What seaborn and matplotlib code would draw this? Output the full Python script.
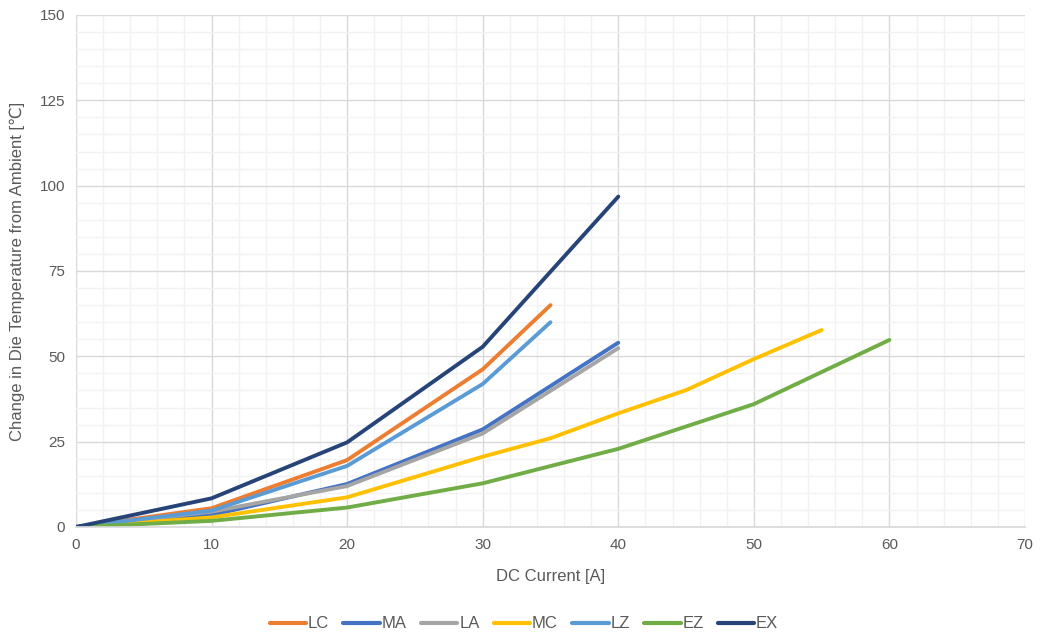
import numpy as np
import pandas as pd
import matplotlib.pyplot as plt
import seaborn as sns
from matplotlib.ticker import MultipleLocator

sns.set_theme(style='white')
plt.rcParams['font.family'] = ['Liberation Sans', 'DejaVu Sans']

# DC current points [A] and temperature rise [C] per part
x_short = [0, 10, 20, 30, 35]
x_40 = [0, 10, 20, 30, 40]
x_mc = [0, 10, 20, 30, 35, 40, 45, 50, 55]
x_ez = [0, 10, 20, 30, 40, 50, 60]

lc = [0, 5.5, 19.6, 46.2, 65]
ma = [0, 3.5, 12.6, 28.6, 54]
la = [0, 4.5, 12.0, 27.4, 52.4]
mc = [0, 2.8, 8.7, 20.6, 26, 33.3, 40.1, 49.2, 57.7]
lz = [0, 4.8, 17.9, 41.9, 60]
ez = [0, 1.8, 5.7, 12.8, 22.9, 36, 54.8]
ex = [0, 8.4, 24.8, 52.8, 96.8]

series = ['LC', 'MA', 'LA', 'MC', 'LZ', 'EZ', 'EX']
colors = ['#ED7D31', '#4472C4', '#A5A5A5', '#FFC000', '#5B9BD5', '#70AD47', '#264478']

rows = []
for name, xs, ys in [('LC', x_short, lc), ('MA', x_40, ma), ('LA', x_40, la),
                     ('MC', x_mc, mc), ('LZ', x_short, lz), ('EZ', x_ez, ez),
                     ('EX', x_40, ex)]:
    for a, b in zip(xs, ys):
        rows.append({'current': a, 'temp': b, 'part': name})
df = pd.DataFrame(rows)

fig = plt.figure(figsize=(10.41, 6.39), dpi=100)
ax = fig.add_axes([76 / 1041, 1 - 527 / 639, (1025 - 76) / 1041, (527 - 15) / 639])

sns.lineplot(data=df, x='current', y='temp', hue='part', hue_order=series,
             palette=colors, linewidth=2.8, sort=False, ax=ax,
             solid_capstyle='round')

ax.set_xlim(0, 70)
ax.set_ylim(0, 150)
ax.xaxis.set_major_locator(MultipleLocator(10))
ax.xaxis.set_minor_locator(MultipleLocator(2))
ax.yaxis.set_major_locator(MultipleLocator(25))
ax.yaxis.set_minor_locator(MultipleLocator(5))
ax.grid(which='minor', color='#F2F2F2', linewidth=1)
ax.grid(which='major', color='#D9D9D9', linewidth=1)
ax.set_axisbelow(True)

for s in ['top', 'right', 'left']:
    ax.spines[s].set_visible(False)
ax.spines['bottom'].set_color('#D9D9D9')
ax.tick_params(which='both', length=0, labelsize=11, labelcolor='#595959')
ax.tick_params(axis='x', pad=8)
ax.tick_params(axis='y', pad=8)

ax.set_xlabel('DC Current [A]', fontsize=12, color='#595959', labelpad=12)
ax.set_ylabel('Change in Die Temperature from Ambient [℃]', fontsize=12,
              color='#595959', labelpad=10,
              fontfamily=['Liberation Sans', 'DejaVu Sans'])

leg = ax.legend(loc='center', bbox_to_anchor=(0.472, (639 - 624 - 112) / 512),
                ncol=7, frameon=False, fontsize=12, handlelength=2.2,
                handletextpad=0.1, columnspacing=0.85)
for t in leg.get_texts():
    t.set_color('#595959')
for h in leg.get_lines():
    h.set_linewidth(3)
    h.set_solid_capstyle('round')

fig.savefig('out.png', dpi=100)
